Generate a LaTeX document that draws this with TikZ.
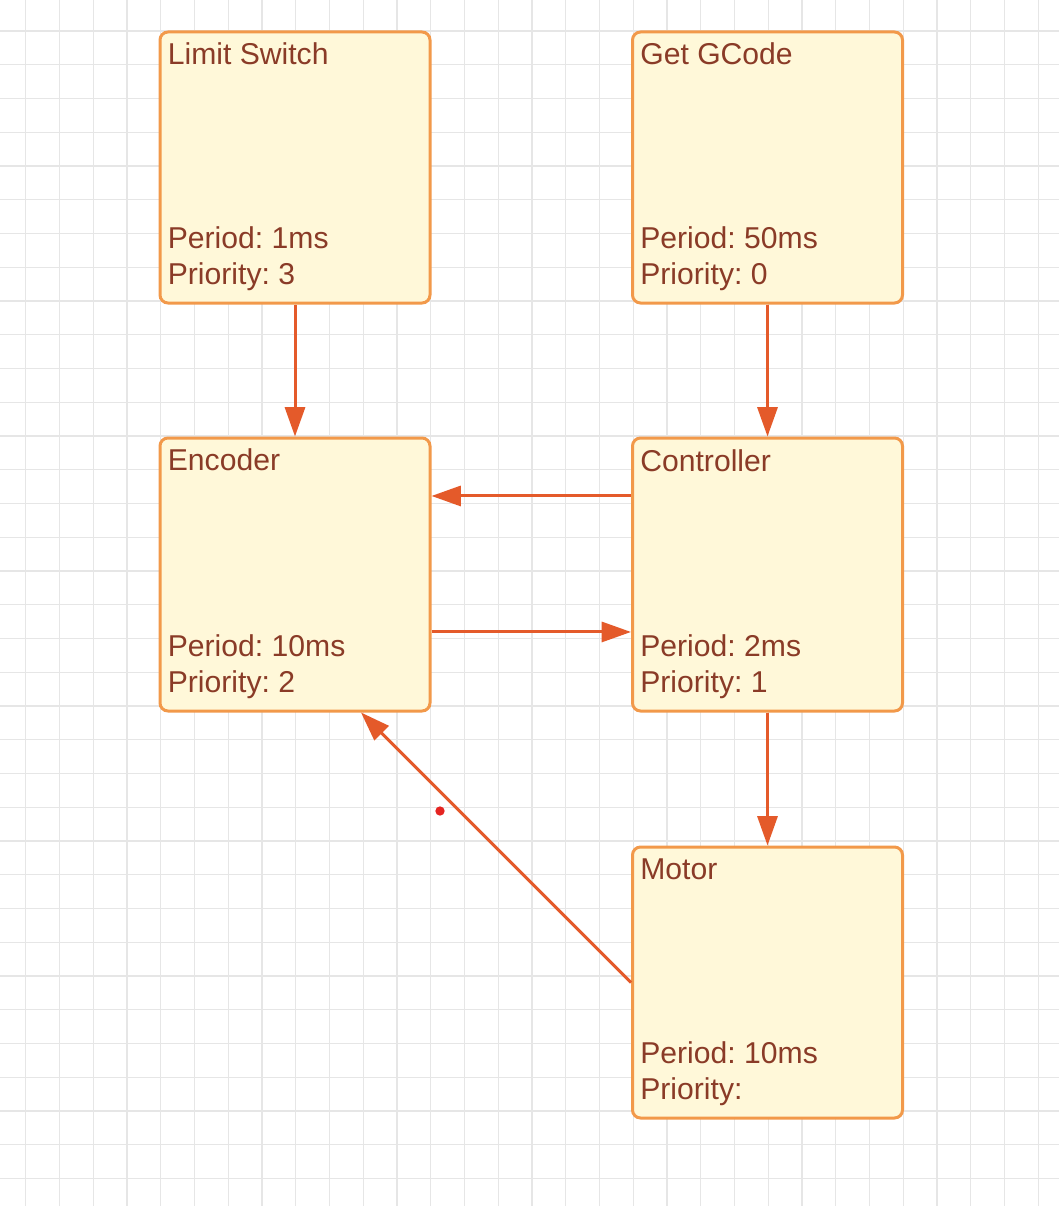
\documentclass[tikz,border=0pt]{standalone}
\usepackage{fontspec}
\setmainfont{Liberation Sans}
\usetikzlibrary{arrows.meta}
\definecolor{gridc}{HTML}{E6E6E6}
\definecolor{boxfill}{HTML}{FFF8D9}
\definecolor{boxline}{HTML}{F2994A}
\definecolor{textc}{HTML}{8A3B27}
\definecolor{arrowc}{HTML}{E45A2A}
\definecolor{dotc}{HTML}{E52421}
\frenchspacing
\begin{document}
\begin{tikzpicture}[x=0.75pt, y=-0.75pt]
	\tikzset{task/.style={draw=boxline, fill=boxfill, line width=2.25pt, rounded corners=6pt, minimum width=202.5pt, minimum height=203.25pt}}
	\tikzset{tall/.style={minimum height=204.75pt}}
	\tikzset{txt/.style={anchor=base west, inner sep=0pt, text=textc, font=\fontsize{22.6pt}{27pt}\selectfont}}
	\tikzset{arrow/.style={draw=arrowc, line width=2.25pt, -{Triangle[length=22pt, width=15pt]}}}
	\tikzset{dot/.style={circle, fill=dotc, inner sep=0pt, minimum size=7pt}}

	\useasboundingbox (0,0) rectangle (1059,1206);
	\fill[white] (0,0) rectangle (1059,1206);
	\foreach \k in {0,...,30}
		\draw[gridc, line width=0.9pt] ({25.7+33.75*\k},0) -- ({25.7+33.75*\k},1206);
	\foreach \k in {0,...,35}
		\draw[gridc, line width=0.9pt] (0,{31+33.75*\k}) -- (1059,{31+33.75*\k});

	\node[task] (ls) at (295, 167.5) {};
	\node[task] (gg) at (767.5, 167.5) {};
	\node[task, tall] (enc) at (295, 574.5) {};
	\node[task, tall] (ctrl) at (767.5, 574.5) {};
	\node[task] (mot) at (767.5, 982.5) {};

	\node[txt] (lsname) at ([shift={(6.8pt,-25.5pt)}]ls.north west) {Limit Switch};
	\node[txt] (lsper) at ([shift={(6.8pt,42pt)}]ls.south west) {Period: 1ms};
	\node[txt] (lspri) at ([shift={(6.8pt,15pt)}]ls.south west) {Priority: 3};

	\node[txt] (ggname) at ([shift={(6.8pt,-25.5pt)}]gg.north west) {Get GCode};
	\node[txt] (ggper) at ([shift={(6.8pt,42pt)}]gg.south west) {Period: 50ms};
	\node[txt] (ggpri) at ([shift={(6.8pt,15pt)}]gg.south west) {Priority: 0};

	\node[txt] (encname) at ([shift={(6.8pt,-25.5pt)}]enc.north west) {Encoder};
	\node[txt] (encper) at ([shift={(6.8pt,42pt)}]enc.south west) {Period: 10ms};
	\node[txt] (encpri) at ([shift={(6.8pt,15pt)}]enc.south west) {Priority: 2};

	\node[txt] (ctrlname) at ([shift={(6.8pt,-26.5pt)}]ctrl.north west) {Controller};
	\node[txt] (ctrlper) at ([shift={(6.8pt,42pt)}]ctrl.south west) {Period: 2ms};
	\node[txt] (ctrlpri) at ([shift={(6.8pt,15pt)}]ctrl.south west) {Priority: 1};

	\node[txt] (motname) at ([shift={(6.8pt,-25.5pt)}]mot.north west) {Motor};
	\node[txt] (motper) at ([shift={(6.8pt,42pt)}]mot.south west) {Period: 10ms};
	\node[txt] (motpri) at ([shift={(6.8pt,15pt)}]mot.south west) {Priority:};

	\draw[arrow] (ls) -- (enc);
	\draw[arrow] (gg) -- (ctrl);
	\draw[arrow] ([yshift=58.9pt]ctrl.west) -- ([yshift=58.9pt]enc.east);
	\draw[arrow] ([yshift=-43.1pt]enc.east) -- ([yshift=-43.1pt]ctrl.west);
	\draw[arrow] (ctrl) -- (mot);
	\draw[arrow] (mot.west) -- ([xshift=49.5pt]enc.south);

	\node[dot] (pin) at (440, 811) {};
\end{tikzpicture}
\end{document}
